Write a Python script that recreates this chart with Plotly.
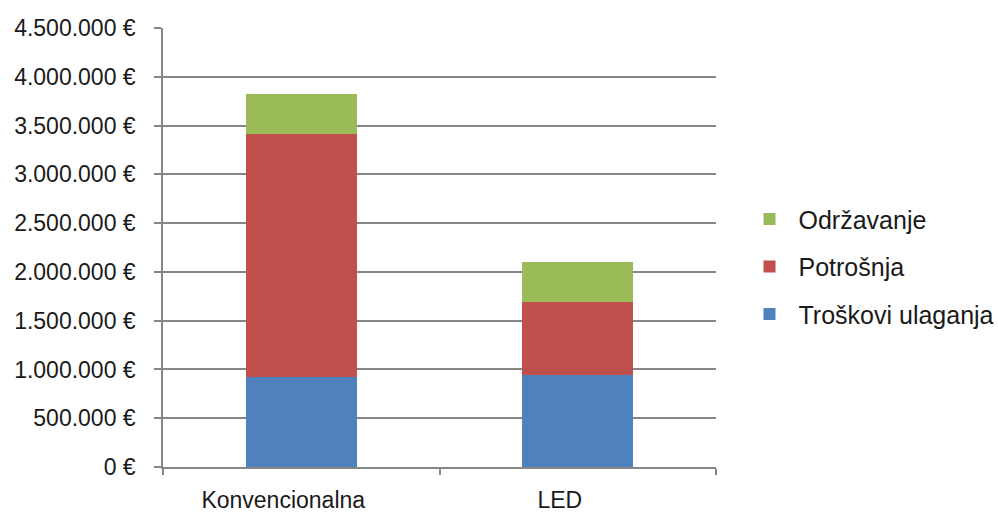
import plotly.graph_objects as go

categories = ["Konvencionalna", "LED"]
investment = [923000, 944000]      # Troškovi ulaganja
consumption = [2488000, 744000]    # Potrošnja
maintenance = [415000, 415000]     # Održavanje

y_tick_values = [0, 500000, 1000000, 1500000, 2000000, 2500000,
                 3000000, 3500000, 4000000, 4500000]
y_tick_labels = ["0 €", "500.000 €", "1.000.000 €", "1.500.000 €", "2.000.000 €",
                 "2.500.000 €", "3.000.000 €", "3.500.000 €", "4.000.000 €", "4.500.000 €"]

# (name, values, colour, legend rank: top of the stack listed first)
series = [
    ("Troškovi ulaganja", investment, "#4F81BD", 3),
    ("Potrošnja", consumption, "#C0504D", 2),
    ("Održavanje", maintenance, "#9BBB59", 1),
]

grey = "#868686"
font_family = "Liberation Sans, Arial, sans-serif"

fig = go.Figure()
for name, values, color, rank in series:
    fig.add_trace(go.Bar(
        x=categories, y=values, name=name, legendgroup=name, legendrank=rank,
        marker=dict(color=color, line=dict(width=0)),
        width=0.4,
    ))

fig.update_layout(
    width=998, height=512,
    margin=dict(l=163, r=282, t=28, b=45, autoexpand=False),
    barmode="stack",
    plot_bgcolor="white", paper_bgcolor="white",
    font=dict(family=font_family, size=23, color="#1a1a1a"),
    showlegend=True,
    legend=dict(
        xref="container", yref="container",
        x=0.742, xanchor="left", y=0.479, yanchor="middle",
        traceorder="grouped", tracegroupgap=12,
        font=dict(size=25), itemwidth=48,
        bgcolor="rgba(0,0,0,0)",
    ),
    xaxis=dict(
        automargin=False,
        showline=True, linecolor=grey, linewidth=1.5,
        ticks="outside", tickson="boundaries", ticklen=6, tickcolor=grey, tickwidth=1.5,
        showgrid=False, ticklabelshift=-18, ticklabelstandoff=12,
    ),
    yaxis=dict(
        automargin=False,
        range=[0, 4500000],
        tickvals=y_tick_values, ticktext=y_tick_labels,
        showline=True, linecolor=grey, linewidth=1.5,
        ticks="outside", ticklen=7, tickcolor=grey, tickwidth=1.5,
        showgrid=True, gridcolor=grey, gridwidth=1.5,
        zeroline=False, ticklabelstandoff=14,
    ),
)

fig.write_html("out.html")
